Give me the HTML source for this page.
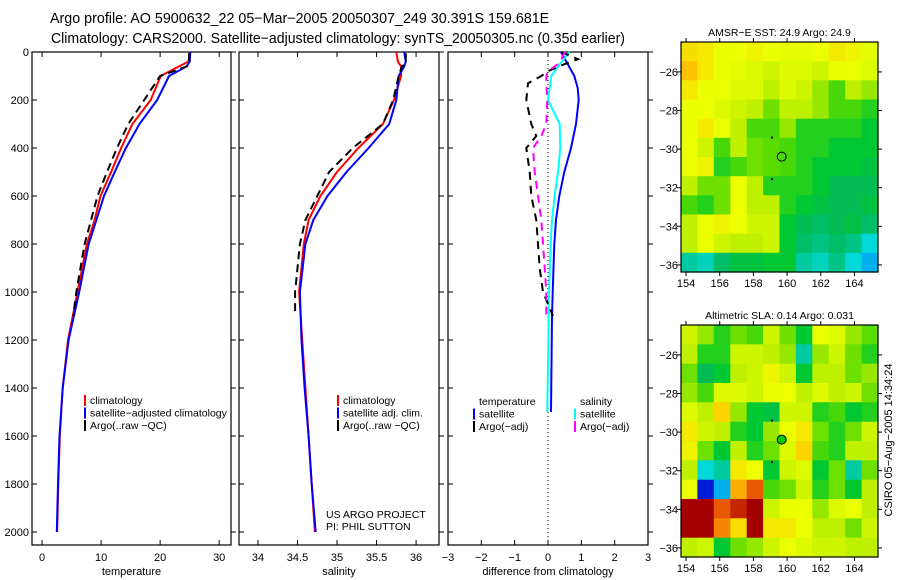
<!DOCTYPE html>
<html><head><meta charset="utf-8"><style>
html,body{margin:0;padding:0;background:#fff;width:900px;height:580px;overflow:hidden}
svg{display:block;font-family:"Liberation Sans",sans-serif}
</style></head><body>
<svg id="c" width="900" height="580" viewBox="0 0 900 580">
<text x="50" y="23" font-size="14.3">Argo profile: AO 5900632_22 05−Mar−2005 20050307_249 30.391S 159.681E</text>
<text x="51" y="43" font-size="14.3" textLength="574" lengthAdjust="spacingAndGlyphs">Climatology: CARS2000. Satellite−adjusted climatology: synTS_20050305.nc (0.35d earlier)</text>
</svg>
<script>
// ---- data ----
const climDepth=[0,40,60,100,200,300,400,500,600,700,800,1000,1200,1400,1600,1800,2000];
const argoDepth=[5,50,60,100,200,300,400,500,600,700,800,1000,1100];
const tempClim=[25,24.8,23.2,20.1,18.4,15.3,13.4,11.7,9.9,8.9,7.6,6.0,4.4,3.5,3.0,2.75,2.55];
const tempSat=[25.1,25,24.5,21.5,19.5,16.5,14.2,12.3,10.5,9.2,7.9,6.3,4.5,3.5,2.95,2.7,2.5];
const tempArgo=[24.9,24.9,24.5,20,17.3,14.6,12.7,11.0,9.4,8.3,7.2,5.8,5.3];
const salClim=[35.75,35.77,35.81,35.81,35.72,35.58,35.27,35.0,34.79,34.64,34.58,34.52,34.56,34.6,34.64,34.68,34.72];
const salSat=[35.85,35.87,35.85,35.78,35.75,35.66,35.4,35.12,34.88,34.7,34.6,34.53,34.55,34.59,34.64,34.68,34.73];
const salArgo=[35.87,35.87,35.82,35.78,35.71,35.58,35.2,34.9,34.75,34.6,34.53,34.47,34.47];
const diffDepth=[0,50,100,150,200,300,400,500,600,700,800,1000,1100,1500];
const diffTempSat=[0.39,0.59,0.79,0.89,0.92,0.84,0.69,0.49,0.34,0.24,0.19,0.14,0.12,0.09];
const diffSalSat=[0.65,0.35,0.1,0.05,0.0,0.35,0.37,0.3,0.2,0.12,0.08,0.03,0.02,-0.02];
const argoDiffDepth=[0,30,50,80,100,130,200,300,350,400,500,600,700,800,900,1000,1050,1100];
const diffTempArgo=[0.4,0.9,0.5,0.0,-0.2,-0.6,-0.65,-0.5,-0.35,-0.65,-0.55,-0.5,-0.35,-0.3,-0.25,-0.15,0.0,0.15];
const diffSalArgo=[0.5,0.4,0.3,0.0,-0.05,-0.05,-0.02,-0.05,-0.2,-0.45,-0.4,-0.3,-0.2,-0.15,-0.1,-0.05,-0.05,-0.05];
const depthTicks=[0,200,400,600,800,1000,1200,1400,1600,1800,2000];
const tempTicks=[0,10,20,30];
const salTicks=[34,34.5,35,35.5,36];
const diffTicks=[-3,-2,-1,0,1,2,3];
const lonTicks=[154,156,158,160,162,164];
const latTicks=[-26,-28,-30,-32,-34,-36];
const sstGrid=[
[0.72,0.7,0.66,0.66,0.68,0.66,0.65,0.65,0.66,0.7,0.68,0.65],
[0.76,0.7,0.66,0.65,0.64,0.62,0.64,0.64,0.62,0.66,0.66,0.64],
[0.7,0.66,0.66,0.64,0.64,0.6,0.64,0.62,0.58,0.54,0.6,0.58],
[0.66,0.66,0.64,0.62,0.6,0.56,0.6,0.6,0.58,0.54,0.54,0.52],
[0.66,0.7,0.66,0.6,0.54,0.54,0.58,0.52,0.52,0.52,0.52,0.5],
[0.66,0.62,0.54,0.6,0.56,0.55,0.54,0.52,0.52,0.5,0.5,0.5],
[0.66,0.68,0.52,0.54,0.56,0.55,0.54,0.52,0.5,0.5,0.5,0.48],
[0.6,0.56,0.56,0.66,0.6,0.52,0.52,0.52,0.5,0.46,0.46,0.46],
[0.54,0.52,0.56,0.66,0.6,0.6,0.52,0.5,0.48,0.46,0.46,0.48],
[0.6,0.66,0.68,0.66,0.62,0.62,0.5,0.46,0.44,0.46,0.48,0.44],
[0.6,0.66,0.62,0.6,0.6,0.62,0.5,0.44,0.42,0.44,0.42,0.36],
[0.4,0.38,0.44,0.48,0.48,0.5,0.5,0.4,0.38,0.42,0.36,0.3]];
const slaGrid=[
[0.62,0.58,0.52,0.56,0.54,0.62,0.56,0.5,0.66,0.64,0.58,0.55],
[0.6,0.52,0.52,0.62,0.62,0.6,0.58,0.4,0.58,0.62,0.56,0.52],
[0.56,0.46,0.5,0.6,0.62,0.68,0.62,0.5,0.6,0.6,0.56,0.58],
[0.58,0.54,0.64,0.64,0.62,0.66,0.66,0.6,0.64,0.6,0.62,0.56],
[0.64,0.6,0.74,0.58,0.5,0.48,0.62,0.62,0.52,0.54,0.5,0.52],
[0.7,0.62,0.6,0.52,0.5,0.58,0.66,0.7,0.56,0.52,0.56,0.62],
[0.68,0.56,0.5,0.6,0.52,0.56,0.64,0.74,0.54,0.52,0.6,0.6],
[0.6,0.36,0.4,0.7,0.66,0.5,0.62,0.64,0.5,0.56,0.4,0.56],
[0.66,0.1,0.3,0.78,0.86,0.54,0.56,0.62,0.52,0.56,0.5,0.6],
[0.96,0.96,0.86,0.9,0.98,0.62,0.66,0.66,0.58,0.64,0.66,0.6],
[0.98,0.96,0.82,0.72,0.96,0.7,0.7,0.66,0.6,0.6,0.56,0.62],
[0.6,0.62,0.5,0.56,0.58,0.62,0.66,0.64,0.62,0.62,0.6,0.6]];
const floatLon=159.68, floatLat=-30.39;

const NS="http://www.w3.org/2000/svg";
const svg=document.getElementById('c');
function mk(tag,at,parent){const e=document.createElementNS(NS,tag);for(const k in at)e.setAttribute(k,at[k]);(parent||svg).appendChild(e);return e;}
function txt(x,y,s,size,anchor,parent){const t=mk('text',{x:x,y:y,'font-size':size,'text-anchor':anchor||'start'},parent);t.textContent=s;return t;}

const Y0=52, Y1=545;
function yD(d){return 52+d*0.24;}

function panel(name,x0,x1,dmin,dmax,xticks,xlabel,showY){
  const g=mk('g',{});
  
  
  const sx=v=>x0+(v-dmin)/(dmax-dmin)*(x1-x0);
  const fr=mk('rect',{x:x0,y:Y0,width:x1-x0,height:Y1-Y0,fill:'none',stroke:'#000','stroke-width':1.2},g);
  
  
  xticks.forEach(v=>{const X=sx(v);
    mk('line',{x1:X,x2:X,y1:Y1,y2:Y1-5,stroke:'#000'},g);
    mk('line',{x1:X,x2:X,y1:Y0,y2:Y0+5,stroke:'#000'},g);
    const t=txt(X,561,String(v).replace('-','−'),11,'middle',g);
    
    
  });
  depthTicks.forEach(d=>{const Y=yD(d);
    mk('line',{x1:x0,x2:x0+5,y1:Y,y2:Y,stroke:'#000'},g);
    mk('line',{x1:x1,x2:x1+5,y1:Y,y2:Y,stroke:'#000'},g);
    if(showY){const t=txt(x0-3,Y+4,String(d),11,'end',g);
      
      }
  });
  const xl=txt((x0+x1)/2,575,xlabel,11,'middle',g);
  
  
  return {g,sx};
}
function line(p,depths,vals,color,w,dash,name){
  const pts=vals.map((v,i)=>p.sx(v).toFixed(1)+','+yD(depths[i]).toFixed(1)).join(' ');
  const at={points:pts,fill:'none',stroke:color,'stroke-width':w};
  if(dash)at['stroke-dasharray']=dash;
  const l=mk('polyline',at,p.g);
  
  
}
function legend(g,x,y,items){
  items.forEach((it,i)=>{const Y=y+i*12.5;
    if(it[1])mk('rect',{x:x,y:Y-9,width:2,height:11,fill:it[1]},g);
    const t=txt(x+6,Y,it[0],10.5,'start',g);
    
    
  });
}

const p1=panel('temperature-panel',32,231,-1.7,32,tempTicks,'temperature',true);
line(p1,climDepth,tempClim,'#f00',2,null,'temp-climatology-line');
line(p1,climDepth,tempSat,'#00f',2,null,'temp-satellite-line');
line(p1,argoDepth,tempArgo,'#000',2,'8,5','temp-argo-line');
legend(p1.g,84,404,[['climatology','#f00'],['satellite−adjusted climatology','#00f'],['Argo(..raw −QC)','#000']]);

const p2=panel('salinity-panel',239,439,33.76,36.29,salTicks,'salinity',false);
line(p2,climDepth,salClim,'#f00',2,null,'sal-climatology-line');
line(p2,climDepth,salSat,'#00f',2,null,'sal-satellite-line');
line(p2,argoDepth,salArgo,'#000',2,'8,5','sal-argo-line');
legend(p2.g,337,404,[['climatology','#f00'],['satellite adj. clim.','#00f'],['Argo(..raw −QC)','#000']]);
const u1=txt(326,518,'US ARGO PROJECT',10.5,'start',p2.g);


const u2=txt(326,530,'PI: PHIL SUTTON',10.5,'start',p2.g);



const p3=panel('difference-panel',448,648,-3,3,diffTicks,'difference from climatology',false);
mk('line',{x1:p3.sx(0),x2:p3.sx(0),y1:Y0,y2:Y1,stroke:'#000','stroke-dasharray':'1,3'},p3.g);
line(p3,diffDepth,diffTempSat,'#00f',2,null,'diff-temp-satellite-line');
line(p3,diffDepth,diffSalSat,'#0ff',2,null,'diff-sal-satellite-line');
line(p3,argoDiffDepth,diffTempArgo,'#000',2,'8,6','diff-temp-argo-line');
line(p3,argoDiffDepth,diffSalArgo,'#f0f',2,'8,6','diff-sal-argo-line');
legend(p3.g,473,405,[['temperature',null],['satellite','#00f'],['Argo(−adj)','#000']]);
legend(p3.g,574,405,[['salinity',null],['satellite','#0ff'],['Argo(−adj)','#f0f']]);

// ---- maps ----
function jet(v){
  const stops=[[0,[0,0,130]],[0.15,[0,40,255]],[0.35,[0,220,230]],[0.45,[0,185,90]],[0.5,[0,200,50]],[0.55,[90,220,0]],[0.6,[190,240,0]],[0.66,[235,255,0]],[0.75,[255,205,0]],[0.85,[240,100,0]],[0.93,[170,0,0]],[1,[160,0,0]]];
  for(let i=1;i<stops.length;i++){if(v<=stops[i][0]){const a=stops[i-1],b=stops[i],f=(v-a[0])/(b[0]-a[0]);
    return 'rgb('+a[1].map((c,k)=>Math.round(c+(b[1][k]-c)*f)).join(',')+')';}}
  return 'rgb(160,0,0)';
}
function map(name,y0,y1,grid,title,filled){
  const g=mk('g',{});
  
  
  const x0=681,x1=878, lonMin=153.7,lonMax=165.4;
  const latTop=-24.45, latBot=latTop-(y1-y0)/19.3;
  const sx=l=>x0+(l-lonMin)/(lonMax-lonMin)*(x1-x0);
  const sy=la=>y0+(latTop-la)/(latTop-latBot)*(y1-y0);
  const rows=grid.length, cols=grid[0].length;
  const cw=(lonMax-lonMin)/cols, ch=(latTop-latBot)/rows;
  grid.forEach((row,r)=>row.forEach((v,c)=>{
    const X=sx(lonMin+c*cw), Y=sy(latTop-r*ch);
    const cell=mk('rect',{x:X.toFixed(1),y:Y.toFixed(1),width:(sx(lonMin+(c+1)*cw)-X+0.6).toFixed(1),height:(sy(latTop-(r+1)*ch)-Y+0.6).toFixed(1),fill:jet(v)},g);
    
    
  }));
  mk('rect',{x:x0,y:y0,width:x1-x0,height:y1-y0,fill:'none',stroke:'#000','stroke-width':1.2},g);
  lonTicks.forEach(l=>{const X=sx(l);
    mk('line',{x1:X,x2:X,y1:y1,y2:y1+4,stroke:'#000'},g);
    mk('line',{x1:X,x2:X,y1:y0,y2:y0-4,stroke:'#000'},g);
    const t=txt(X,y1+15,String(l),11,'middle',g);
    
    });
  latTicks.forEach(la=>{const Y=sy(la);
    mk('line',{x1:x0,x2:x0-4,y1:Y,y2:Y,stroke:'#000'},g);
    mk('line',{x1:x1,x2:x1+4,y1:Y,y2:Y,stroke:'#000'},g);
    const t=txt(x0-3,Y+4,String(la).replace('-','−'),11,'end',g);
    
    });
  const tt=txt((x0+x1)/2,y0-6,title,10.5,'middle',g);
  
  
  mk('circle',{cx:sx(floatLon),cy:sy(floatLat),r:4.5,fill:filled?'#0c0':'none',stroke:'#000','stroke-width':1},g);
  mk('rect',{x:sx(159.05),y:sy(-29.35),width:2,height:2,fill:'#000'},g);
  mk('rect',{x:sx(159.05),y:sy(-31.5),width:2,height:2,fill:'#000'},g);
}
map('sst-map',42,272,sstGrid,'AMSR−E SST: 24.9 Argo: 24.9',false);
map('sla-map',325,557,slaGrid,'Altimetric SLA: 0.14 Argo: 0.031',true);
const cs=txt(0,0,'CSIRO 05−Aug−2005 14:34:24',11,'middle');
cs.setAttribute('transform','translate(892,440) rotate(-90)');


</script>
</body></html>
